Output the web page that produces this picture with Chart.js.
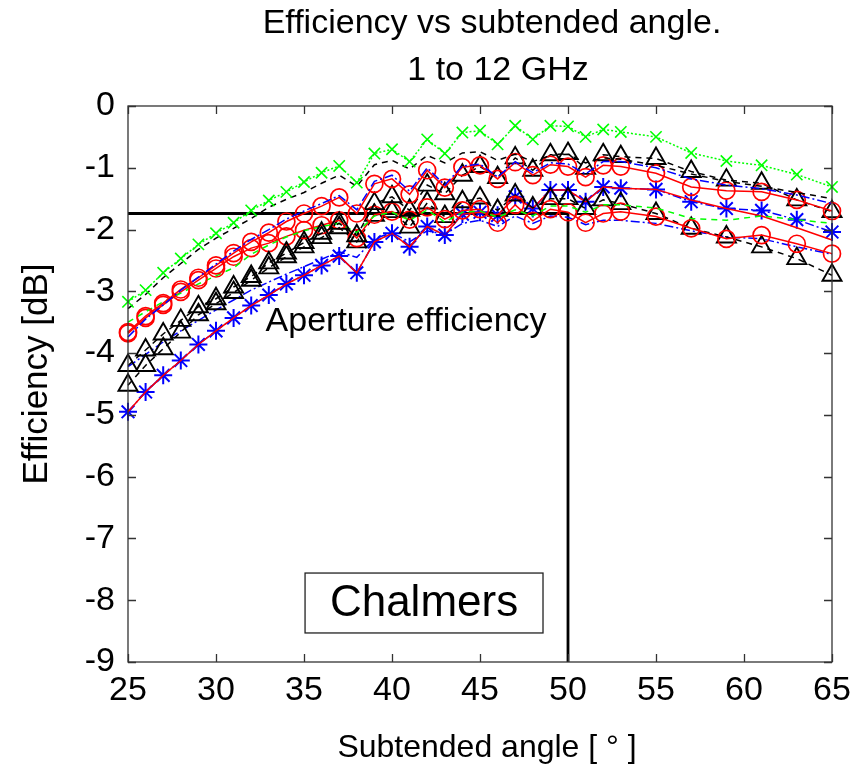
<!DOCTYPE html>
<html>
<head>
<meta charset="utf-8">
<title>Efficiency vs subtended angle</title>
<script src="https://cdn.jsdelivr.net/npm/chart.js@4.4.1/dist/chart.umd.min.js"></script>
<style>
  html, body { margin: 0; padding: 0; background: #fff; }
  canvas { display: block; }
</style>
</head>
<body>
<canvas id="chart" width="860" height="766"></canvas>
<script>
// Subtended angle [deg] – 1 deg steps up to 53, then 2 deg steps
const angles = [25,26,27,28,29,30,31,32,33,34,35,36,37,38,39,40,41,42,43,44,45,46,47,48,49,50,51,52,53,55,57,59,61,63,65];

const xTicks = [25,30,35,40,45,50,55,60,65];
const yTicks = [0,-1,-2,-3,-4,-5,-6,-7,-8,-9];

// Efficiency [dB] per feed curve
const greenCross = [-3.17,-2.98,-2.70,-2.47,-2.24,-2.06,-1.89,-1.69,-1.53,-1.39,-1.23,-1.08,-0.97,-1.24,-0.77,-0.70,-0.90,-0.54,-0.77,-0.43,-0.40,-0.62,-0.32,-0.54,-0.32,-0.33,-0.50,-0.38,-0.42,-0.50,-0.76,-0.89,-0.96,-1.11,-1.31];
const blackDash  = [-3.28,-3.05,-2.78,-2.55,-2.32,-2.14,-1.98,-1.82,-1.64,-1.51,-1.40,-1.25,-1.12,-1.30,-0.95,-0.88,-1.02,-0.80,-0.92,-0.76,-0.74,-0.88,-0.78,-0.90,-0.80,-0.78,-0.92,-0.84,-0.86,-0.96,-1.10,-1.22,-1.30,-1.40,-1.50];
const redCircA   = [-3.66,-3.40,-3.19,-2.97,-2.78,-2.58,-2.38,-2.20,-2.05,-1.87,-1.74,-1.62,-1.48,-1.74,-1.26,-1.18,-1.43,-1.04,-1.32,-0.99,-0.96,-1.18,-0.91,-1.12,-0.95,-0.98,-1.15,-0.96,-0.98,-1.09,-1.31,-1.37,-1.39,-1.52,-1.70];
const blueDashA  = [-3.74,-3.45,-3.22,-2.98,-2.77,-2.56,-2.35,-2.16,-2.00,-1.83,-1.70,-1.58,-1.45,-1.68,-1.22,-1.12,-1.38,-1.00,-1.28,-0.97,-0.94,-1.15,-0.90,-1.08,-0.92,-0.94,-1.10,-0.90,-0.90,-1.00,-1.18,-1.28,-1.34,-1.44,-1.58];
const triA       = [-4.20,-3.95,-3.69,-3.47,-3.25,-3.12,-2.93,-2.76,-2.54,-2.38,-2.21,-2.06,-1.90,-2.10,-1.58,-1.47,-1.69,-1.28,-1.42,-1.12,-0.98,-1.16,-0.84,-1.04,-0.79,-0.77,-1.01,-0.79,-0.82,-0.85,-1.06,-1.20,-1.25,-1.52,-1.71];
const greenDash  = [-3.50,-3.33,-3.17,-3.03,-2.88,-2.75,-2.62,-2.40,-2.25,-2.12,-2.02,-1.95,-1.90,-2.05,-1.78,-1.72,-1.85,-1.68,-1.88,-1.72,-1.70,-1.80,-1.68,-1.78,-1.62,-1.62,-1.72,-1.60,-1.60,-1.65,-1.82,-1.85,-1.78,-1.84,-1.90];
const redCircB   = [-3.68,-3.43,-3.22,-3.01,-2.82,-2.63,-2.44,-2.30,-2.22,-2.11,-2.01,-1.93,-1.85,-2.14,-1.76,-1.71,-1.84,-1.64,-1.83,-1.69,-1.67,-1.89,-1.60,-1.86,-1.67,-1.72,-1.89,-1.74,-1.71,-1.79,-1.98,-2.15,-2.09,-2.23,-2.39];
const triB       = [-4.52,-4.20,-3.93,-3.66,-3.38,-3.20,-3.02,-2.82,-2.62,-2.44,-2.28,-2.13,-1.97,-2.20,-1.77,-1.71,-1.96,-1.57,-1.79,-1.55,-1.49,-1.69,-1.44,-1.65,-1.50,-1.50,-1.66,-1.52,-1.58,-1.74,-1.98,-2.12,-2.28,-2.47,-2.74];
const blueDashB  = [-4.22,-4.02,-3.82,-3.64,-3.47,-3.30,-3.14,-2.98,-2.85,-2.72,-2.60,-2.48,-2.36,-2.45,-2.15,-2.05,-2.20,-2.02,-2.08,-1.90,-1.85,-1.95,-1.78,-1.90,-1.78,-1.80,-1.92,-1.85,-1.85,-1.90,-2.02,-2.12,-2.15,-2.28,-2.40];
const blueStar   = [-4.95,-4.63,-4.36,-4.12,-3.86,-3.64,-3.43,-3.23,-3.06,-2.88,-2.74,-2.58,-2.43,-2.70,-2.20,-2.06,-2.28,-1.95,-2.09,-1.75,-1.72,-1.77,-1.47,-1.66,-1.36,-1.36,-1.55,-1.31,-1.33,-1.35,-1.55,-1.66,-1.69,-1.84,-2.04];
const redLine    = [-4.95,-4.63,-4.36,-4.12,-3.86,-3.64,-3.43,-3.23,-3.06,-2.88,-2.74,-2.58,-2.43,-2.70,-2.20,-2.06,-2.28,-1.95,-2.09,-1.75,-1.72,-1.77,-1.47,-1.66,-1.36,-1.36,-1.55,-1.31,-1.33,-1.35,-1.52,-1.66,-1.78,-1.97,-2.17];

// aperture efficiency reference: -1.74 dB up to 50 deg, then down to the axis
const apertureX = [25, 50, 50];
const apertureY = [-1.74, -1.74, -9];

const GREEN = '#00ff00', RED = '#ff0000', BLUE = '#0000ff', BLACK = '#000000';
const FONT = '"Liberation Sans", Arial, Helvetica, sans-serif';

function pts(ys, xs) {
  return ys.map((v, i) => ({ x: (xs || angles)[i], y: v }));
}

function curve(ys, color, dash, marker, size, weight) {
  return {
    data: pts(ys),
    borderColor: color,
    borderWidth: 1.5,
    borderDash: dash,
    pointStyle: marker || false,
    pointRadius: marker ? size : 0,
    pointBorderColor: color,
    pointBorderWidth: weight || 1.6,
    pointBackgroundColor: 'rgba(0,0,0,0)',
    clip: false
  };
}

const DOT = [2, 2], DASH = [6, 5], DASHDOT = [9, 3, 2, 3];

const datasets = [
  curve(greenCross, GREEN, DOT, 'crossRot', 8, 1.6),
  curve(blackDash, BLACK, DASH),
  curve(blueDashA, BLUE, DASHDOT),
  curve(redCircA, RED, [], 'circle', 8.5, 1.7),
  curve(triA, BLACK, DASH, 'triangle', 11, 1.9),
  curve(greenDash, GREEN, DASH),
  curve(redCircB, RED, [], 'circle', 8.5, 1.7),
  curve(triB, BLACK, DASH, 'triangle', 11, 1.9),
  curve(blueDashB, BLUE, DASHDOT),
  curve(redLine, RED, []),
  curve(blueStar, BLUE, DASHDOT, 'star', 9, 2),
  {
    data: pts(apertureY, apertureX),
    borderColor: BLACK,
    borderWidth: 2.8,
    pointRadius: 0,
    clip: false
  }
];

// frame, inward ticks, titles and the in-plot labels
const decor = {
  id: 'decor',
  afterDraw(chart) {
    const { ctx, chartArea: a, scales: { x, y } } = chart;
    ctx.save();
    ctx.strokeStyle = '#333';
    ctx.lineWidth = 1.3;
    ctx.strokeRect(a.left, a.top, a.right - a.left, a.bottom - a.top);

    ctx.beginPath();
    xTicks.forEach(v => {
      const px = Math.round(x.getPixelForValue(v)) + 0.5;
      ctx.moveTo(px, a.bottom); ctx.lineTo(px, a.bottom - 8);
      ctx.moveTo(px, a.top);    ctx.lineTo(px, a.top + 8);
    });
    yTicks.forEach(v => {
      const py = Math.round(y.getPixelForValue(v)) + 0.5;
      ctx.moveTo(a.left, py);  ctx.lineTo(a.left + 8, py);
      ctx.moveTo(a.right, py); ctx.lineTo(a.right - 8, py);
    });
    ctx.stroke();

    ctx.fillStyle = '#000';
    ctx.textAlign = 'center';
    ctx.textBaseline = 'alphabetic';

    ctx.font = '34px ' + FONT;
    ctx.fillText('Efficiency vs subtended angle.', 492, 33);
    ctx.fillText('1 to 12 GHz', 498, 80);

    ctx.font = '32px ' + FONT;
    ctx.fillText('Subtended angle [ ° ]', 487, 757);

    ctx.save();
    ctx.translate(47, 374);
    ctx.rotate(-Math.PI / 2);
    ctx.font = '35px ' + FONT;
    ctx.fillText('Efficiency [dB]', 0, 0);
    ctx.restore();

    ctx.font = '34px ' + FONT;
    ctx.fillText('Aperture efficiency', x.getPixelForValue(40.8), y.getPixelForValue(-3.64));

    const bx0 = x.getPixelForValue(35.06), bx1 = x.getPixelForValue(48.58);
    const by0 = y.getPixelForValue(-7.56), by1 = y.getPixelForValue(-8.53);
    ctx.fillStyle = '#fff';
    ctx.fillRect(bx0, by0, bx1 - bx0, by1 - by0);
    ctx.strokeStyle = '#222';
    ctx.lineWidth = 1.3;
    ctx.strokeRect(bx0, by0, bx1 - bx0, by1 - by0);
    ctx.fillStyle = '#000';
    ctx.font = '44px ' + FONT;
    ctx.textBaseline = 'middle';
    ctx.fillText('Chalmers', (bx0 + bx1) / 2, (by0 + by1) / 2 + 1);
    ctx.restore();
  }
};

new Chart(document.getElementById('chart'), {
  type: 'line',
  data: { datasets },
  plugins: [decor],
  options: {
    responsive: false,
    animation: false,
    events: [],
    layout: { padding: { top: 106, right: 28, left: 0, bottom: 0 } },
    elements: { line: { tension: 0 } },
    plugins: { legend: { display: false }, tooltip: { enabled: false }, title: { display: false } },
    scales: {
      x: {
        type: 'linear',
        min: 25, max: 65,
        afterBuildTicks: s => { s.ticks = xTicks.map(v => ({ value: v })); },
        afterFit: s => { s.height = 104; },
        grid: { display: false, drawTicks: false },
        border: { display: false },
        ticks: { color: '#000', padding: 8, font: { family: FONT, size: 34 } }
      },
      y: {
        type: 'linear',
        min: -9, max: 0,
        afterBuildTicks: s => { s.ticks = yTicks.map(v => ({ value: v })); },
        afterFit: s => { s.width = 128; },
        grid: { display: false, drawTicks: false },
        border: { display: false },
        ticks: { color: '#000', padding: 13, font: { family: FONT, size: 34 } }
      }
    }
  }
});
</script>
</body>
</html>
